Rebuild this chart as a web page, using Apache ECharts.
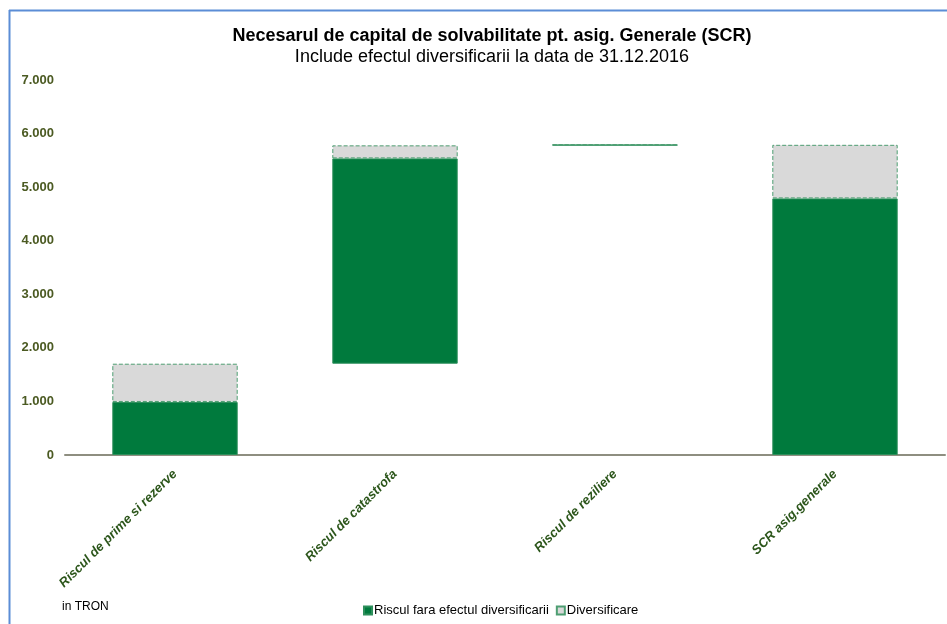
<!DOCTYPE html>
<html>
<head>
<meta charset="utf-8">
<script src="https://cdn.jsdelivr.net/npm/echarts@6/dist/echarts.min.js"></script>
<style>
html,body{margin:0;padding:0;background:#fff;}
#chart{width:947px;height:624px;}
</style>
</head>
<body>
<div id="chart"></div>
<script>
// ---- data ----
const categories = ["Riscul de prime si rezerve", "Riscul de catastrofa", "Riscul de reziliere", "SCR asig.generale"];
const baseValues = [0, 1704, 5780, 0];            // invisible waterfall offset
const riskValues = [990, 3833, 10, 4790];          // Riscul fara efectul diversificarii
const diversValues = [714, 243, 0, 1000];          // Diversificare
const seriesNames = ["Riscul fara efectul diversificarii", "Diversificare"];
const yTicks = [0, 1000, 2000, 3000, 4000, 5000, 6000, 7000];
const titleText = "Necesarul de capital de solvabilitate pt. asig. Generale (SCR)";
const subtitleText = "Include efectul diversificarii la data de 31.12.2016";
const unitText = "in TRON";

const FONT = "'Liberation Sans', Arial, sans-serif";
const chart = echarts.init(document.getElementById('chart'), null, {renderer: 'canvas'});

function fmt(v) {
  return String(v).replace(/\B(?=(\d{3})+(?!\d))/g, '.');
}

chart.setOption({
  animation: false,
  backgroundColor: '#ffffff',
  textStyle: {fontFamily: FONT},
  title: [{
    text: titleText,
    subtext: subtitleText,
    left: 487,
    top: 22,
    textAlign: 'center',
    itemGap: 3,
    textStyle: {fontFamily: FONT, fontSize: 18, fontWeight: 'bold', color: '#000'},
    subtextStyle: {fontFamily: FONT, fontSize: 18, color: '#000'}
  }],
  legend: {
    left: 358,
    top: 599,
    data: seriesNames,
    icon: 'rect',
    itemWidth: 8,
    itemHeight: 8,
    itemGap: 7,
    textStyle: {fontFamily: FONT, fontSize: 13, color: '#000', padding: [0, 0, 0, -3]}
  },
  grid: {left: 65, right: 2, top: 80, bottom: 169, containLabel: false},
  xAxis: {
    type: 'category',
    data: categories,
    axisTick: {show: false},
    axisLine: {lineStyle: {color: '#8e8e80', width: 2}},
    axisLabel: {
      rotate: 45,
      margin: 17,
      interval: 0,
      fontFamily: FONT,
      fontSize: 13,
      fontWeight: 'bold',
      fontStyle: 'italic',
      color: '#2c561b'
    }
  },
  yAxis: {
    type: 'value',
    min: yTicks[0],
    max: yTicks[yTicks.length - 1],
    interval: yTicks[1] - yTicks[0],
    axisLine: {show: false},
    axisTick: {show: false},
    splitLine: {show: false},
    axisLabel: {
      margin: 11,
      fontFamily: FONT,
      fontSize: 13,
      fontWeight: 'bold',
      color: '#4b5a22',
      formatter: fmt
    }
  },
  series: [
    {
      name: 'base',
      type: 'bar',
      stack: 'w',
      barWidth: '57%',
      data: baseValues,
      itemStyle: {color: 'rgba(0,0,0,0)'},
      silent: true
    },
    {
      name: seriesNames[0],
      type: 'bar',
      stack: 'w',
      barWidth: '57%',
      data: riskValues,
      itemStyle: {color: '#007a3d', borderColor: '#2e8f5c', borderWidth: 1}
    },
    {
      name: seriesNames[1],
      type: 'bar',
      stack: 'w',
      barWidth: '57%',
      data: diversValues,
      itemStyle: {color: '#d9d9d9', borderColor: '#4e9e72', borderWidth: 1, borderType: 'dashed'}
    }
  ],
  graphic: [
    {type: 'line', shape: {x1: 9.5, y1: 10, x2: 9.5, y2: 624}, style: {stroke: '#5b8dd6', lineWidth: 2}, silent: true},
    {type: 'line', shape: {x1: 9, y1: 10.5, x2: 947, y2: 10.5}, style: {stroke: '#5b8dd6', lineWidth: 2}, silent: true},
    {type: 'text', left: 62, top: 601, style: {text: unitText, font: '12px ' + FONT, fill: '#000'}, silent: true}
  ]
});
</script>
</body>
</html>
